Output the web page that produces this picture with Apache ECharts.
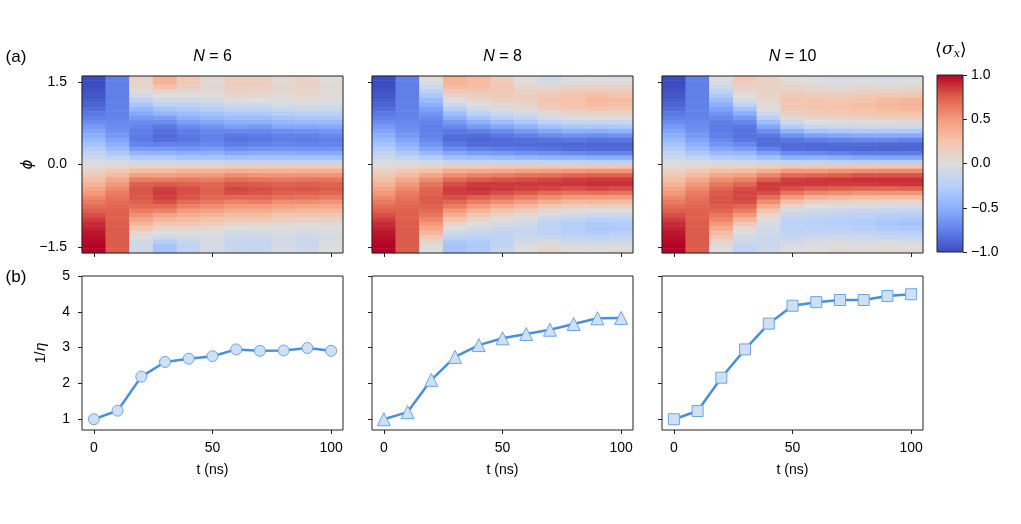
<!DOCTYPE html>
<html><head><meta charset="utf-8">
<script src="https://cdn.jsdelivr.net/npm/echarts@6/dist/echarts.min.js"></script>
<style>html,body{margin:0;padding:0;background:#fff}#c{width:1021px;height:524px}</style>
</head><body><div id="c"></div>
<script>
// ---------------- data ----------------
const tValues = [0, 10, 20, 30, 40, 50, 60, 70, 80, 90, 100];
const timeTicks = [0, 50, 100];
const phiTicks = [-1.5, 0, 1.5];
const invEtaTicks = [1, 2, 3, 4, 5];
const cbarTicks = [-1, -0.5, 0, 0.5, 1];
const panelN = ['6', '8', '10'];

// 1/eta vs t
const invEtaN6  = [1.00, 1.24, 2.19, 2.60, 2.69, 2.76, 2.95, 2.91, 2.92, 2.99, 2.91];
const invEtaN8  = [1.00, 1.20, 2.10, 2.74, 3.07, 3.26, 3.38, 3.50, 3.66, 3.82, 3.83];
const invEtaN10 = [1.00, 1.23, 2.16, 2.95, 3.67, 4.17, 4.27, 4.33, 4.33, 4.44, 4.49];

// <sigma_x>(phi, t): each column = one time, 40 rows from phi=+pi/2 (top) to phi=-pi/2 (bottom)
const colT0  = [-1.00,-1.00,-0.99,-0.97,-0.95,-0.92,-0.89,-0.85,-0.80,-0.75,-0.69,-0.63,-0.57,-0.50,-0.43,-0.35,-0.28,-0.20,-0.12,-0.04,0.04,0.12,0.20,0.28,0.35,0.43,0.50,0.57,0.63,0.69,0.75,0.80,0.85,0.89,0.92,0.95,0.97,0.99,1.00,1.00];
const colT10 = [-0.76,-0.76,-0.76,-0.76,-0.76,-0.76,-0.76,-0.75,-0.75,-0.74,-0.72,-0.70,-0.67,-0.63,-0.57,-0.50,-0.41,-0.31,-0.20,-0.07,0.07,0.20,0.31,0.41,0.50,0.57,0.63,0.67,0.70,0.72,0.74,0.75,0.75,0.76,0.76,0.76,0.76,0.76,0.76,0.76];

const heatN6 = [
  colT0, colT10,
  [0.10,0.10,0.08,0.02,-0.08,-0.22,-0.33,-0.44,-0.54,-0.62,-0.70,-0.74,-0.77,-0.78,-0.78,-0.74,-0.62,-0.46,-0.30,-0.12,0.12,0.30,0.46,0.62,0.74,0.78,0.78,0.77,0.74,0.70,0.62,0.54,0.44,0.33,0.22,0.08,-0.02,-0.08,-0.10,-0.10],
  [0.36,0.35,0.26,0.10,0.00,-0.10,-0.20,-0.34,-0.45,-0.60,-0.70,-0.80,-0.84,-0.86,-0.84,-0.76,-0.62,-0.46,-0.30,-0.12,0.12,0.30,0.46,0.62,0.76,0.84,0.86,0.84,0.80,0.70,0.60,0.45,0.34,0.20,0.10,0.00,-0.10,-0.26,-0.35,-0.36],
  [0.20,0.20,0.15,0.06,0.00,-0.10,-0.20,-0.30,-0.40,-0.50,-0.60,-0.70,-0.78,-0.80,-0.80,-0.75,-0.65,-0.50,-0.35,-0.15,0.15,0.35,0.50,0.65,0.75,0.80,0.80,0.78,0.70,0.60,0.50,0.40,0.30,0.20,0.10,0.00,-0.06,-0.15,-0.20,-0.20],
  [0.06,0.06,0.05,0.05,0.00,-0.05,-0.15,-0.25,-0.35,-0.45,-0.55,-0.65,-0.72,-0.75,-0.75,-0.72,-0.62,-0.50,-0.35,-0.15,0.15,0.35,0.50,0.62,0.72,0.75,0.75,0.72,0.65,0.55,0.45,0.35,0.25,0.15,0.05,0.00,-0.05,-0.05,-0.06,-0.06],
  [0.15,0.15,0.15,0.12,0.08,0.00,-0.08,-0.20,-0.30,-0.40,-0.50,-0.60,-0.72,-0.80,-0.82,-0.78,-0.68,-0.55,-0.38,-0.18,0.18,0.38,0.55,0.68,0.78,0.82,0.80,0.72,0.60,0.50,0.40,0.30,0.20,0.08,0.00,-0.08,-0.12,-0.15,-0.15,-0.15],
  [0.15,0.15,0.15,0.10,0.06,0.00,-0.08,-0.20,-0.30,-0.40,-0.50,-0.62,-0.72,-0.78,-0.80,-0.76,-0.66,-0.52,-0.36,-0.17,0.17,0.36,0.52,0.66,0.76,0.80,0.78,0.72,0.62,0.50,0.40,0.30,0.20,0.08,0.00,-0.06,-0.10,-0.15,-0.15,-0.15],
  [0.05,0.06,0.08,0.06,0.03,0.00,-0.05,-0.15,-0.25,-0.35,-0.45,-0.55,-0.68,-0.75,-0.77,-0.74,-0.65,-0.52,-0.36,-0.17,0.17,0.36,0.52,0.65,0.74,0.77,0.75,0.68,0.55,0.45,0.35,0.25,0.15,0.05,0.00,-0.03,-0.06,-0.08,-0.06,-0.05],
  [0.10,0.12,0.12,0.10,0.07,0.03,-0.03,-0.12,-0.22,-0.32,-0.43,-0.55,-0.67,-0.75,-0.78,-0.75,-0.66,-0.53,-0.37,-0.18,0.18,0.37,0.53,0.66,0.75,0.78,0.75,0.67,0.55,0.43,0.32,0.22,0.12,0.03,-0.03,-0.07,-0.10,-0.12,-0.12,-0.10],
  [0.00,0.02,0.04,0.04,0.03,0.00,-0.05,-0.12,-0.22,-0.32,-0.42,-0.53,-0.64,-0.72,-0.76,-0.74,-0.66,-0.53,-0.37,-0.18,0.18,0.37,0.53,0.66,0.74,0.76,0.72,0.64,0.53,0.42,0.32,0.22,0.12,0.05,0.00,-0.03,-0.04,-0.04,-0.02,0.00]
];
const heatN8 = [
  colT0, colT10,
  [0.02,-0.02,-0.10,-0.22,-0.32,-0.42,-0.50,-0.58,-0.65,-0.70,-0.74,-0.76,-0.76,-0.75,-0.72,-0.66,-0.56,-0.43,-0.28,-0.10,0.10,0.28,0.43,0.56,0.66,0.72,0.75,0.76,0.76,0.74,0.70,0.65,0.58,0.50,0.42,0.32,0.22,0.10,0.02,-0.02],
  [0.35,0.35,0.30,0.20,0.10,0.00,-0.10,-0.25,-0.38,-0.50,-0.62,-0.72,-0.80,-0.84,-0.85,-0.80,-0.70,-0.55,-0.38,-0.18,0.18,0.38,0.55,0.70,0.80,0.85,0.84,0.80,0.72,0.62,0.50,0.38,0.25,0.10,0.00,-0.10,-0.20,-0.30,-0.35,-0.35],
  [0.30,0.30,0.28,0.22,0.15,0.08,0.00,-0.10,-0.22,-0.35,-0.50,-0.62,-0.75,-0.85,-0.88,-0.86,-0.76,-0.60,-0.40,-0.18,0.18,0.40,0.60,0.76,0.86,0.88,0.85,0.75,0.62,0.50,0.35,0.22,0.10,0.00,-0.08,-0.15,-0.22,-0.28,-0.30,-0.30],
  [0.15,0.18,0.20,0.20,0.18,0.13,0.06,-0.02,-0.12,-0.25,-0.40,-0.55,-0.70,-0.80,-0.86,-0.86,-0.78,-0.62,-0.42,-0.20,0.20,0.42,0.62,0.78,0.86,0.86,0.80,0.70,0.55,0.40,0.25,0.12,0.02,-0.06,-0.13,-0.18,-0.20,-0.20,-0.18,-0.15],
  [0.00,0.02,0.08,0.12,0.15,0.15,0.10,0.03,-0.06,-0.18,-0.32,-0.48,-0.62,-0.76,-0.84,-0.86,-0.80,-0.66,-0.45,-0.20,0.20,0.45,0.66,0.80,0.86,0.84,0.76,0.62,0.48,0.32,0.18,0.06,-0.03,-0.10,-0.15,-0.15,-0.12,-0.08,-0.02,0.00],
  [-0.10,-0.06,0.05,0.15,0.20,0.22,0.20,0.15,0.05,-0.08,-0.22,-0.38,-0.55,-0.70,-0.82,-0.86,-0.82,-0.68,-0.48,-0.22,0.22,0.48,0.68,0.82,0.86,0.82,0.70,0.55,0.38,0.22,0.08,-0.05,-0.15,-0.20,-0.22,-0.20,-0.15,-0.05,0.06,0.10],
  [-0.02,0.02,0.10,0.18,0.25,0.27,0.25,0.20,0.10,-0.02,-0.15,-0.32,-0.50,-0.66,-0.80,-0.87,-0.85,-0.72,-0.50,-0.22,0.22,0.50,0.72,0.85,0.87,0.80,0.66,0.50,0.32,0.15,0.02,-0.10,-0.20,-0.25,-0.27,-0.25,-0.18,-0.10,-0.02,0.02],
  [-0.02,0.02,0.12,0.20,0.28,0.32,0.30,0.24,0.12,0.00,-0.15,-0.32,-0.50,-0.68,-0.82,-0.88,-0.86,-0.74,-0.52,-0.24,0.24,0.52,0.74,0.86,0.88,0.82,0.68,0.50,0.32,0.15,0.00,-0.12,-0.24,-0.30,-0.32,-0.28,-0.20,-0.12,-0.02,0.02],
  [-0.03,0.02,0.10,0.18,0.25,0.30,0.28,0.22,0.12,0.00,-0.14,-0.30,-0.48,-0.66,-0.80,-0.88,-0.86,-0.74,-0.52,-0.24,0.24,0.52,0.74,0.86,0.88,0.80,0.66,0.48,0.30,0.14,0.00,-0.12,-0.22,-0.28,-0.30,-0.25,-0.18,-0.10,-0.02,0.03]
];
const heatN10 = [
  colT0, colT10,
  [0.00,-0.03,-0.10,-0.20,-0.30,-0.40,-0.50,-0.58,-0.65,-0.72,-0.76,-0.78,-0.78,-0.77,-0.72,-0.65,-0.55,-0.42,-0.28,-0.10,0.10,0.28,0.42,0.55,0.65,0.72,0.77,0.78,0.78,0.76,0.72,0.65,0.58,0.50,0.40,0.30,0.20,0.10,0.03,0.00],
  [0.20,0.18,0.12,0.08,0.00,-0.05,-0.20,-0.35,-0.50,-0.62,-0.72,-0.80,-0.82,-0.82,-0.80,-0.72,-0.60,-0.45,-0.30,-0.12,0.12,0.30,0.45,0.60,0.72,0.80,0.82,0.82,0.80,0.72,0.62,0.50,0.35,0.20,0.05,0.00,-0.08,-0.12,-0.18,-0.20],
  [0.10,0.12,0.12,0.12,0.10,0.08,0.05,0.00,-0.10,-0.25,-0.40,-0.55,-0.68,-0.80,-0.85,-0.85,-0.75,-0.58,-0.38,-0.16,0.16,0.38,0.58,0.75,0.85,0.85,0.80,0.68,0.55,0.40,0.25,0.10,0.00,-0.05,-0.08,-0.10,-0.12,-0.12,-0.12,-0.10],
  [0.00,0.03,0.10,0.15,0.20,0.22,0.22,0.20,0.15,0.05,-0.10,-0.28,-0.48,-0.66,-0.80,-0.86,-0.84,-0.70,-0.50,-0.22,0.22,0.50,0.70,0.84,0.86,0.80,0.66,0.48,0.28,0.10,-0.05,-0.15,-0.20,-0.22,-0.22,-0.20,-0.15,-0.10,-0.03,0.00],
  [-0.02,0.00,0.05,0.12,0.18,0.22,0.24,0.22,0.18,0.10,0.00,-0.15,-0.35,-0.58,-0.76,-0.86,-0.86,-0.72,-0.50,-0.22,0.22,0.50,0.72,0.86,0.86,0.76,0.58,0.35,0.15,0.00,-0.10,-0.18,-0.22,-0.24,-0.22,-0.18,-0.12,-0.05,0.00,0.02],
  [-0.05,-0.02,0.03,0.10,0.16,0.22,0.25,0.25,0.20,0.12,0.02,-0.12,-0.32,-0.55,-0.74,-0.85,-0.87,-0.75,-0.52,-0.24,0.24,0.52,0.75,0.87,0.85,0.74,0.55,0.32,0.12,-0.02,-0.12,-0.20,-0.25,-0.25,-0.22,-0.16,-0.10,-0.03,0.02,0.05],
  [-0.04,0.00,0.05,0.12,0.20,0.25,0.28,0.27,0.22,0.14,0.03,-0.10,-0.30,-0.52,-0.72,-0.85,-0.88,-0.78,-0.55,-0.25,0.25,0.55,0.78,0.88,0.85,0.72,0.52,0.30,0.10,-0.03,-0.14,-0.22,-0.27,-0.28,-0.25,-0.20,-0.12,-0.05,0.00,0.04],
  [-0.06,-0.02,0.04,0.14,0.22,0.30,0.32,0.30,0.25,0.15,0.04,-0.10,-0.30,-0.52,-0.72,-0.86,-0.88,-0.78,-0.56,-0.25,0.25,0.56,0.78,0.88,0.86,0.72,0.52,0.30,0.10,-0.04,-0.15,-0.25,-0.30,-0.32,-0.30,-0.22,-0.14,-0.04,0.02,0.06],
  [-0.05,0.00,0.06,0.15,0.24,0.32,0.35,0.32,0.26,0.16,0.05,-0.10,-0.30,-0.52,-0.74,-0.87,-0.88,-0.78,-0.56,-0.25,0.25,0.56,0.78,0.88,0.87,0.74,0.52,0.30,0.10,-0.05,-0.16,-0.26,-0.32,-0.35,-0.32,-0.24,-0.15,-0.06,0.00,0.05]
];

// ---------------- chart ----------------
const FONT = "'Liberation Sans', Arial, sans-serif";
const INK = '#000';
const FRAME = '#222';
const coolwarm = ['#3b4cc0','#6282ea','#8db0fe','#b8d0f9','#dddddd','#f5c4ac','#f49a7b','#de604d','#b40426'];
const heats = [heatN6, heatN8, heatN10];
const lines = [invEtaN6, invEtaN8, invEtaN10];
const symbols = ['circle', 'triangle', 'rect'];
const symbolSizes = [11, 13, 11];
const lefts = [82, 372, 662];
const W = 261;
const HM_TOP = 76, HM_H = 177;
const LN_TOP = 276, LN_H = 154;
const nRows = heatN6[0].length;
const rowCats = Array.from({length: nRows}, (_, i) => 'r' + i);
// phi extent: cell centres from -pi/2..pi/2, plus half a cell
const phiHalf = Math.PI / 2 + Math.PI / (2 * (nRows - 1));
const fmtNum = (v, d) => (v < 0 ? '\u2212' : '') + Math.abs(v).toFixed(d);

const grid = [], xAxis = [], yAxis = [], series = [];
const tickStyle = {show: true, inside: false, length: 4, lineStyle: {color: FRAME, width: 1}};
const labelStyle = {color: INK, fontFamily: FONT, fontSize: 14};

// heatmap grids (0..2)
for (let p = 0; p < 3; p++) {
  grid.push({left: lefts[p], top: HM_TOP, width: W, height: HM_H});
  xAxis.push({type: 'category', gridIndex: p, data: tValues.map(String), show: false});
  yAxis.push({type: 'category', gridIndex: p, data: rowCats, inverse: true, show: false});
  const data = [];
  heats[p].forEach((col, c) => col.forEach((v, r) => data.push([c, r, v])));
  series.push({type: 'heatmap', xAxisIndex: p, yAxisIndex: p, data, silent: true,
    itemStyle: {borderWidth: 0}, emphasis: {disabled: true}, progressive: 0});
}
// heatmap frame + tick axes (3..5)
for (let p = 0; p < 3; p++) {
  const g = 3 + p;
  grid.push({left: lefts[p], top: HM_TOP, width: W, height: HM_H, show: true,
    backgroundColor: 'transparent', borderColor: FRAME, borderWidth: 1, z: 10});
  xAxis.push({type: 'value', gridIndex: g, min: -5, max: 105, z: 10,
    axisLine: {show: false, onZero: false}, splitLine: {show: false},
    axisTick: Object.assign({customValues: timeTicks}, tickStyle),
    axisLabel: {show: false}});
  yAxis.push({type: 'value', gridIndex: g, min: -phiHalf, max: phiHalf, z: 10,
    axisLine: {show: false, onZero: false}, splitLine: {show: false},
    axisTick: Object.assign({customValues: phiTicks}, tickStyle),
    axisLabel: Object.assign({show: p === 0, customValues: phiTicks, margin: 15,
      formatter: v => fmtNum(v, 1)}, labelStyle),
    name: p === 0 ? '\u03D5' : '', nameLocation: 'middle', nameGap: 41, nameRotate: 90,
    nameTextStyle: {color: INK, fontFamily: 'DejaVu Sans', fontSize: 15, fontStyle: 'italic'}});
}
// line plots (6..8)
for (let p = 0; p < 3; p++) {
  const g = 6 + p;
  grid.push({left: lefts[p], top: LN_TOP, width: W, height: LN_H, show: true,
    backgroundColor: 'transparent', borderColor: FRAME, borderWidth: 1});
  xAxis.push({type: 'value', gridIndex: g, min: -5, max: 105,
    axisLine: {show: false, onZero: false}, splitLine: {show: false},
    axisTick: Object.assign({customValues: timeTicks}, tickStyle),
    axisLabel: Object.assign({customValues: timeTicks, margin: 11}, labelStyle),
    name: 't (ns)', nameLocation: 'middle', nameGap: 33,
    nameTextStyle: {color: INK, fontFamily: FONT, fontSize: 14}});
  yAxis.push({type: 'value', gridIndex: g, min: 0.7, max: 5,
    axisLine: {show: false, onZero: false}, splitLine: {show: false},
    axisTick: Object.assign({customValues: invEtaTicks}, tickStyle),
    axisLabel: Object.assign({show: p === 0, customValues: invEtaTicks, margin: 12}, labelStyle),
    name: p === 0 ? '1/{i|\u03B7}' : '', nameLocation: 'middle', nameGap: 34, nameRotate: 90,
    nameTextStyle: {color: INK, fontFamily: FONT, fontSize: 14,
      rich: {i: {fontStyle: 'italic', fontFamily: 'DejaVu Sans', fontSize: 14, color: INK}}}});
  series.push({type: 'line', xAxisIndex: g, yAxisIndex: g, silent: true,
    data: tValues.map((t, i) => [t, lines[p][i]]),
    symbol: symbols[p], symbolSize: symbolSizes[p], showAllSymbol: true,
    lineStyle: {color: '#4a8fd9', width: 2.5},
    itemStyle: {color: '#d0e0f4', borderColor: '#6aa6e4', borderWidth: 1},
    emphasis: {disabled: true}});
}
// colorbar (9)
grid.push({left: 937, top: 75, width: 26, height: 177, show: true,
  backgroundColor: 'transparent', borderColor: FRAME, borderWidth: 1, z: 10});
xAxis.push({type: 'value', gridIndex: 9, min: 0, max: 1, show: false});
yAxis.push({type: 'value', gridIndex: 9, min: -1, max: 1, interval: 0.5, position: 'right',
  axisLine: {show: false, onZero: false}, splitLine: {show: false},
  axisTick: tickStyle,
  axisLabel: Object.assign({margin: 8, formatter: v => fmtNum(v, 1)}, labelStyle)});
series.push({type: 'custom', xAxisIndex: 9, yAxisIndex: 9, silent: true, data: [[0, 1]],
  renderItem: (params, api) => {
    const a = api.coord([0, 1]), b = api.coord([1, -1]);
    const stops = coolwarm.slice().reverse().map((c, i, arr) => ({offset: i / (arr.length - 1), color: c}));
    return {type: 'rect', shape: {x: a[0], y: a[1], width: b[0] - a[0], height: b[1] - a[1]},
      style: {fill: new echarts.graphic.LinearGradient(0, 0, 0, 1, stops)}};
  }});

const txt = (x, y, text, size, extra) => ({type: 'text', x, y, silent: true, z: 20,
  style: Object.assign({text, fill: INK, fontFamily: FONT, fontSize: size,
    align: 'center', verticalAlign: 'middle'}, extra || {})});
const graphic = [
  txt(16, 57, '(a)', 17),
  txt(16, 277, '(b)', 17),
  txt(951, 50, '\u27E8{i|\u03C3}{s|x}\u27E9', 17, {rich: {
    i: {fontStyle: 'italic', fontFamily: 'DejaVu Serif', fontSize: 17, fill: INK},
    s: {fontStyle: 'italic', fontFamily: 'DejaVu Serif', fontSize: 11, fill: INK, padding: [9, 0, 0, 0]}}})
];
for (let p = 0; p < 3; p++) {
  graphic.push(txt(lefts[p] + W / 2, 57, '{i|N} = ' + panelN[p], 16,
    {rich: {i: {fontStyle: 'italic', fontFamily: FONT, fontSize: 16, fill: INK}}}));
}

const chart = echarts.init(document.getElementById('c'), null, {renderer: 'canvas'});
chart.setOption({
  animation: false,
  backgroundColor: '#fff',
  grid, xAxis, yAxis, series, graphic,
  visualMap: {type: 'continuous', min: -1, max: 1, seriesIndex: [0, 1, 2], show: false,
    inRange: {color: coolwarm}}
});
</script>
</body></html>
